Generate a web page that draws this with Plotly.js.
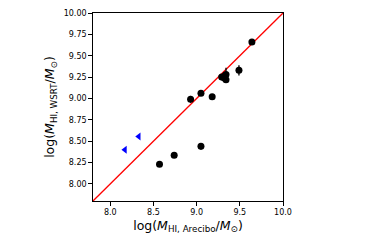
<!DOCTYPE html>
<html>
<head>
<script src="https://cdn.plot.ly/plotly-3.0.1.min.js"></script>
<style>body{margin:0;background:#fff}#c{width:374px;height:249px}</style>
</head>
<body>
<div id="c"></div>
<script>
const detX = [8.57, 8.74, 9.05, 8.93, 9.05, 9.18, 9.29, 9.32, 9.34, 9.33, 9.34, 9.49, 9.64];
const detY = [8.23, 8.335, 8.44, 8.99, 9.06, 9.02, 9.25, 9.24, 9.22, 9.27, 9.28, 9.33, 9.66];
const detErr = [0.02, 0.02, 0.04, 0.04, 0.02, 0.02, 0.02, 0.02, 0.03, 0.02, 0.08, 0.06, 0.03];
const limX = [8.17, 8.33];
const limY = [8.40, 8.555];
const oneToOne = [7.8, 10.0];
const xTicks = [8.0, 8.5, 9.0, 9.5, 10.0];
const yTicks = [8.0, 8.25, 8.5, 8.75, 9.0, 9.25, 9.5, 9.75, 10.0];

const font = {family: 'DejaVu Sans', color: '#000'};
const data = [
  {x: oneToOne, y: oneToOne, mode: 'lines', line: {color: '#ff0000', width: 1.3}, hoverinfo: 'skip'},
  {x: detX, y: detY, mode: 'markers', marker: {color: '#000', size: 7},
   error_y: {type: 'data', array: detErr, color: '#000', thickness: 1.3, width: 0}},
  {x: limX, y: limY, mode: 'markers', marker: {color: '#0000ff', size: 7, symbol: 'triangle-left'}}
];
const layout = {
  width: 374, height: 249,
  margin: {l: 93, r: 91, t: 13, b: 48},
  showlegend: false,
  paper_bgcolor: '#fff', plot_bgcolor: '#fff',
  font: font,
  xaxis: {
    range: [7.8, 10.0], tickvals: xTicks, ticktext: xTicks.map(v => v.toFixed(1)),
    ticks: 'outside', ticklen: 3.5, tickwidth: 1, tickcolor: '#000',
    showgrid: false, zeroline: false, showline: true, linecolor: '#000', linewidth: 1.3, mirror: true,
    tickfont: {family: 'DejaVu Sans', size: 8, color: '#000'},
    title: {text: 'log(<i>M</i><sub>HI, Arecibo</sub>/<i>M</i><sub>⊙</sub>)', font: {family: 'DejaVu Sans', size: 12.5, color: '#000'}, standoff: 4}
  },
  yaxis: {
    range: [7.8, 10.0], tickvals: yTicks, ticktext: yTicks.map(v => v.toFixed(2)),
    ticks: 'outside', ticklen: 3.5, tickwidth: 1, tickcolor: '#000',
    showgrid: false, zeroline: false, showline: true, linecolor: '#000', linewidth: 1.3, mirror: true,
    tickfont: {family: 'DejaVu Sans', size: 8, color: '#000'},
    title: {text: 'log(<i>M</i><sub>HI, WSRT</sub>/<i>M</i><sub>⊙</sub>)', font: {family: 'DejaVu Sans', size: 12.5, color: '#000'}, standoff: 6}
  }
};
Plotly.newPlot('c', data, layout, {displayModeBar: false, staticPlot: true});
</script>
</body>
</html>
